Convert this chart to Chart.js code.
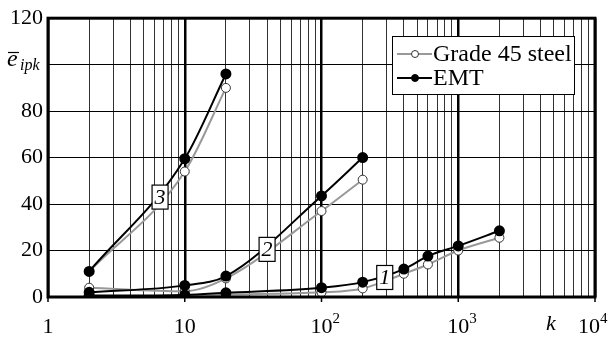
<!DOCTYPE html>
<html>
<head>
<meta charset="utf-8">
<script src="https://cdn.jsdelivr.net/npm/chart.js@4.4.1/dist/chart.umd.min.js"></script>
<style>
  html, body { margin: 0; padding: 0; background: #fff; }
  #wrap { width: 609px; height: 338px; }
</style>
</head>
<body>
<div id="wrap"><canvas id="c" width="609" height="338"></canvas></div>
<script>
// data
const curve3K = [2, 10, 20];
const curve3Grade = [11, 54, 90];
const curve3EMT = [11, 59.5, 96];
const curve2K = [2, 10, 20, 100, 200];
const curve2Grade = [4, 2.5, 8, 37, 50.5];
const curve2EMT = [2, 5, 9, 43.5, 60];
const curve1K = [2, 10, 20, 100, 200, 400, 600, 1000, 2000];
const curve1Grade = [0.3, 0.5, 1, 2, 3.7, 10, 14, 20, 25.5];
const curve1EMT = [0.6, 0.9, 1.8, 4, 6.4, 12, 17.6, 22, 28.5];
const yTicks = [0, 20, 40, 60, 80, 100, 120];
const xDecades = [1, 10, 100, 1000, 10000];
const curveLabels = ['3', '2', '1'];
const labelK = [6.6, 40, 290];
const labelY = [43, 20.5, 8.4];

const serif = '"Liberation Serif", "Times New Roman", serif';
const pts = (ks, vs) => ks.map((k, i) => ({ x: k, y: vs[i] }));

const emtStyle = { borderColor: '#000', backgroundColor: '#000', pointBackgroundColor: '#000', pointBorderColor: '#000', borderWidth: 2, pointRadius: 4.5, order: 1 };
const gradeStyle = { borderColor: '#999', backgroundColor: '#fff', pointBackgroundColor: '#fff', pointBorderColor: '#333', pointBorderWidth: 1, borderWidth: 2, pointRadius: 4.5, order: 2 };

const datasets = [
  { label: 'EMT', data: pts(curve3K, curve3EMT), ...emtStyle },
  { label: 'EMT', data: pts(curve2K, curve2EMT), ...emtStyle },
  { label: 'EMT', data: pts(curve1K, curve1EMT), ...emtStyle },
  { label: 'Grade 45 steel', data: pts(curve3K, curve3Grade), ...gradeStyle },
  { label: 'Grade 45 steel', data: pts(curve2K, curve2Grade), ...gradeStyle },
  { label: 'Grade 45 steel', data: pts(curve1K, curve1Grade), ...gradeStyle }
];

const extras = {
  id: 'extras',
  afterDraw(chart) {
    const { ctx, chartArea: a, scales: { x, y } } = chart;
    ctx.save();
    // frame
    ctx.strokeStyle = '#000';
    ctx.lineWidth = 3;
    ctx.strokeRect(a.left, a.top, a.right - a.left, a.bottom - a.top);
    ctx.lineWidth = 1.5;
    xDecades.forEach(v => {
      const px = x.getPixelForValue(v);
      ctx.beginPath(); ctx.moveTo(px, a.bottom); ctx.lineTo(px, a.bottom + 5); ctx.stroke();
    });

    // x labels
    ctx.fillStyle = '#000';
    ctx.textBaseline = 'alphabetic';
    xDecades.forEach((v, i) => {
      let px = x.getPixelForValue(v);
      const base = i === 0 ? '1' : '10';
      ctx.font = '22px ' + serif;
      const w = ctx.measureText(base).width;
      if (i === 4) px = 589;
      ctx.textAlign = 'center';
      ctx.fillText(base, px, 333);
      if (i > 1) {
        ctx.font = '15px ' + serif;
        ctx.textAlign = 'left';
        ctx.fillText(String(i), px + w / 2, 323);
      }
    });
    ctx.font = 'italic 22px ' + serif;
    ctx.textAlign = 'center';
    ctx.fillText('k', 551, 330);

    // y title
    ctx.textAlign = 'left';
    ctx.font = 'italic 24px ' + serif;
    ctx.fillText('e', 7, 66);
    ctx.lineWidth = 1.2;
    ctx.beginPath(); ctx.moveTo(8, 52.5); ctx.lineTo(19, 52.5); ctx.stroke();
    ctx.font = 'italic 16px ' + serif;
    ctx.fillText('ipk', 20, 70);

    // curve labels
    curveLabels.forEach((t, i) => {
      const cx = x.getPixelForValue(labelK[i]);
      const cy = y.getPixelForValue(labelY[i]);
      ctx.fillStyle = '#fff';
      ctx.fillRect(cx - 8, cy - 12, 16, 24);
      ctx.strokeStyle = '#000';
      ctx.lineWidth = 1.2;
      ctx.strokeRect(cx - 8, cy - 12, 16, 24);
      ctx.fillStyle = '#000';
      ctx.font = 'italic 22px ' + serif;
      ctx.textAlign = 'center';
      ctx.textBaseline = 'middle';
      ctx.fillText(t, cx, cy + 1);
    });

    // legend
    const lx = 392, ly = 36, lw = 182, lh = 58;
    ctx.fillStyle = '#fff';
    ctx.fillRect(lx, ly, lw, lh);
    ctx.strokeStyle = '#000';
    ctx.lineWidth = 1;
    ctx.strokeRect(lx + 0.5, ly + 0.5, lw, lh);
    const rows = [
      { text: 'Grade 45 steel', line: '#999', fill: '#fff', edge: '#333', yy: ly + 18 },
      { text: 'EMT', line: '#000', fill: '#000', edge: '#000', yy: ly + 42 }
    ];
    rows.forEach(r => {
      ctx.strokeStyle = r.line;
      ctx.lineWidth = 2;
      ctx.beginPath(); ctx.moveTo(lx + 5, r.yy); ctx.lineTo(lx + 40, r.yy); ctx.stroke();
      ctx.beginPath(); ctx.arc(lx + 23, r.yy, 3.5, 0, Math.PI * 2);
      ctx.fillStyle = r.fill; ctx.fill();
      ctx.strokeStyle = r.edge; ctx.lineWidth = 1; ctx.stroke();
      ctx.fillStyle = '#000';
      ctx.font = '24px ' + serif;
      ctx.textAlign = 'left';
      ctx.textBaseline = 'middle';
      ctx.fillText(r.text, lx + 41, r.yy + 1);
    });
    ctx.restore();
  }
};

new Chart(document.getElementById('c'), {
  type: 'scatter',
  data: { datasets },
  options: {
    responsive: false,
    animation: false,
    showLine: true,
    layout: { padding: { top: 12, right: 14, left: 0, bottom: 0 } },
    elements: { line: { tension: 0.25, cubicInterpolationMode: 'monotone' } },
    plugins: { legend: { display: false }, tooltip: { enabled: false } },
    scales: {
      x: {
        type: 'logarithmic',
        min: 1,
        max: 10000,
        afterBuildTicks(s) {
          const t = [];
          for (let d = 1; d < 10000; d *= 10) for (let m = 1; m < 10; m++) t.push({ value: d * m });
          t.push({ value: 10000 });
          s.ticks = t;
        },
        afterFit(s) { s.height = 41; },
        ticks: { display: false },
        border: { display: false },
        grid: {
          drawTicks: false,
          color: c => (Math.abs(Math.log10(c.tick.value) % 1) < 1e-9 ? '#000' : '#333'),
          lineWidth: c => (Math.abs(Math.log10(c.tick.value) % 1) < 1e-9 ? 2.5 : 1)
        }
      },
      y: {
        min: 0,
        max: 120,
        afterBuildTicks(s) { s.ticks = yTicks.map(v => ({ value: v })); },
        afterFit(s) { s.width = 48; },
        border: { display: false },
        grid: { drawTicks: false, color: '#000', lineWidth: 1 },
        ticks: {
          padding: 5,
          color: '#000',
          font: { family: serif, size: 22 },
          callback: v => (v === 100 ? '' : v)
        }
      }
    }
  },
  plugins: [extras]
});
</script>
</body>
</html>
